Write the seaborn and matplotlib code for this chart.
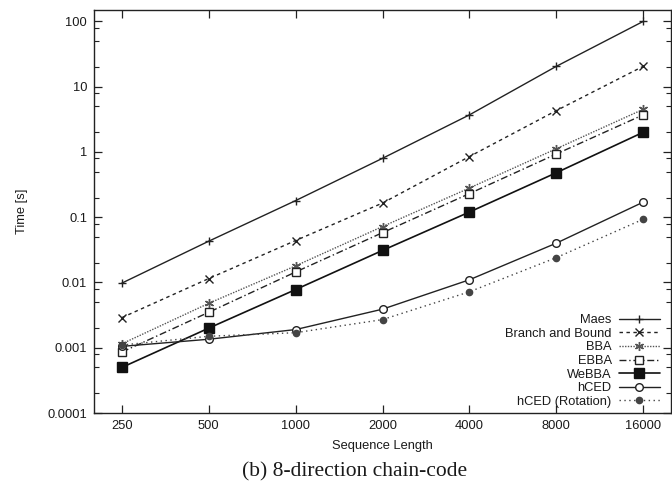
import matplotlib
matplotlib.use("Agg")
import matplotlib.pyplot as plt
from matplotlib.ticker import LogLocator, NullFormatter
import pandas as pd
import seaborn as sns

# data
lengths = [250, 500, 1000, 2000, 4000, 8000, 16000]
maes = [0.0098, 0.043, 0.18, 0.8, 3.7, 20.5, 100]
branch_bound = [0.0029, 0.0115, 0.044, 0.165, 0.85, 4.3, 20.5]
bba = [0.00115, 0.0048, 0.018, 0.072, 0.28, 1.12, 4.5]
ebba = [0.00086, 0.0035, 0.0145, 0.058, 0.23, 0.93, 3.7]
webba = [0.0005, 0.002, 0.0078, 0.031, 0.12, 0.48, 2.0]
hced = [0.00105, 0.00135, 0.0019, 0.0039, 0.011, 0.04, 0.17]
hced_rot = [0.0011, 0.0015, 0.0017, 0.0027, 0.0072, 0.024, 0.093]

names = ["Maes", "Branch and Bound", "BBA", "EBBA", "WeBBA", "hCED", "hCED (Rotation)"]
values = [maes, branch_bound, bba, ebba, webba, hced, hced_rot]

df = pd.DataFrame({"length": lengths * len(names),
                   "time": [v for vals in values for v in vals],
                   "method": [n for n in names for _ in lengths]})

# gnuplot-ish monochrome styles
styles = {
    "Maes": dict(linestyle="-", marker="+", markersize=6, color="#222222"),
    "Branch and Bound": dict(linestyle=(0, (2.5, 2.5)), marker="x", markersize=5.5, color="#222222"),
    "BBA": dict(linestyle=(0, (1, 1)), marker=(6, 2, 0), markersize=6.5, color="#555555"),
    "EBBA": dict(linestyle=(0, (5, 2, 1, 2)), marker="s", markersize=5.5, color="#222222",
                 markerfacecolor="white"),
    "WeBBA": dict(linestyle="-", marker="s", markersize=6.5, color="#111111", linewidth=1.2),
    "hCED": dict(linestyle="-", marker="o", markersize=5.5, color="#222222",
                 markerfacecolor="white"),
    "hCED (Rotation)": dict(linestyle=(0, (1, 2.5)), marker="o", markersize=4.5, color="#444444"),
}

sns.set_style("ticks")
plt.rcParams["font.family"] = ["Liberation Sans", "DejaVu Sans"]
plt.rcParams["font.size"] = 9.3

fig = plt.figure(figsize=(6.72, 4.92), dpi=100)
ax = fig.add_axes([94 / 672, 1 - 413 / 492, 577 / 672, 403 / 492])

for name in names:
    st = dict(linewidth=1.0, markeredgewidth=1.0)
    st.update(styles[name])
    st["markeredgecolor"] = st["color"]
    sns.lineplot(data=df[df.method == name], x="length", y="time", label=name,
                 ax=ax, **st)

ax.set_xscale("log", base=2)
ax.set_yscale("log")
ax.set_xlim(200, 20000)
ax.set_ylim(0.0001, 150)
ax.set_xticks(lengths)
ax.set_xticklabels([str(l) for l in lengths])
ax.xaxis.set_minor_locator(plt.NullLocator())
yt = [0.0001, 0.001, 0.01, 0.1, 1, 10, 100]
ax.set_yticks(yt)
ax.set_yticklabels(["0.0001", "0.001", "0.01", "0.1", "1", "10", "100"])
ax.yaxis.set_minor_locator(LogLocator(base=10, subs=[2, 5, 8]))
ax.yaxis.set_minor_formatter(NullFormatter())

ax.tick_params(which="both", direction="in", top=True, right=True, color="#222222",
               labelsize=9.3, labelcolor="#1a1a1a")
ax.tick_params(which="major", length=6, width=0.9, pad=5)
ax.tick_params(which="minor", length=3.5, width=0.8)
for s in ax.spines.values():
    s.set_linewidth(1.0)
    s.set_color("#222222")

ax.set_xlabel("Sequence Length", fontsize=9.3, color="#1a1a1a", labelpad=6)
ax.set_ylabel("Time [s]", fontsize=9.3, color="#1a1a1a", labelpad=14)

leg = ax.legend(loc="lower right", markerfirst=False, frameon=False, fontsize=9.3,
                handlelength=3.2, handletextpad=0.55, labelspacing=0.12,
                borderaxespad=0.0, bbox_to_anchor=(0.99, 0.0))
for t in leg.get_texts():
    t.set_color("#1a1a1a")

fig.text(355 / 672, 1 - 472 / 492, "(b) 8-direction chain-code",
         family=["Liberation Serif", "DejaVu Serif"], fontsize=15.5,
         ha="center", va="center", color="#1a1a1a")

fig.savefig("out.png", dpi=100)
